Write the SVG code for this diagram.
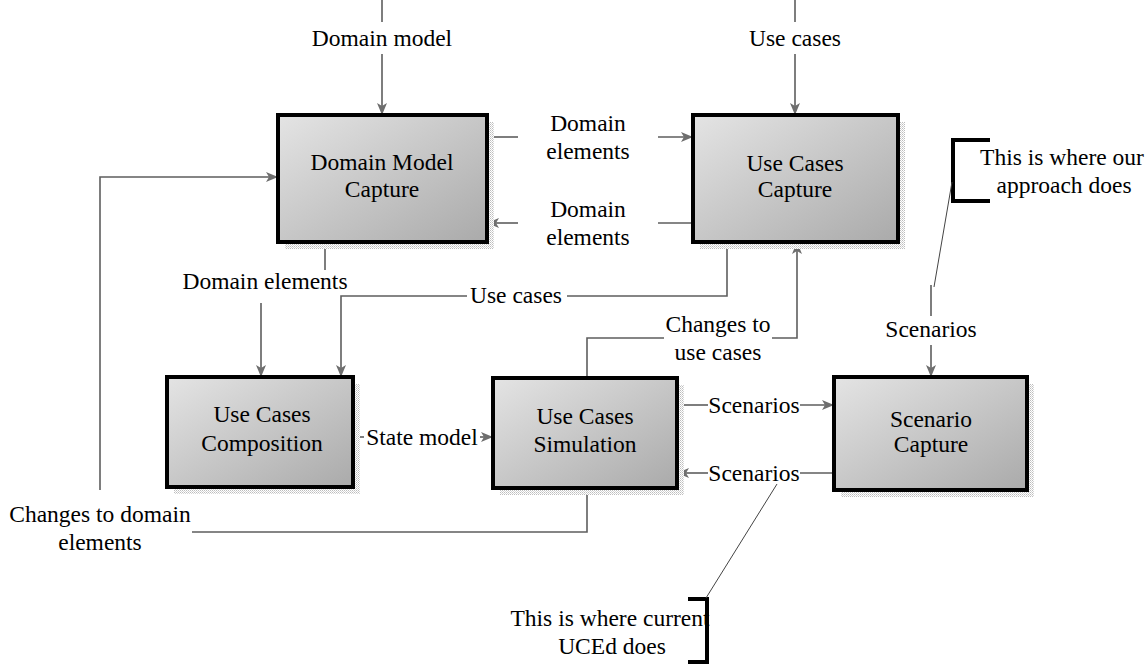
<svg xmlns="http://www.w3.org/2000/svg" width="1148" height="666" viewBox="0 0 1148 666" font-family="'Liberation Serif', 'DejaVu Serif', serif">
  <defs>
    <linearGradient id="boxFill" x1="0" y1="0" x2="1" y2="1">
      <stop offset="0" stop-color="#e4e4e4"/>
      <stop offset="0.55" stop-color="#c4c4c4"/>
      <stop offset="1" stop-color="#aaaaaa"/>
    </linearGradient>
    <pattern id="dither" width="2" height="2" patternUnits="userSpaceOnUse">
      <rect width="2" height="2" fill="#ffffff"/>
      <rect width="1" height="1" fill="#bdbdbd"/>
      <rect x="1" y="1" width="1" height="1" fill="#d6d6d6"/>
    </pattern>
    <marker id="arrow" viewBox="0 0 12 10" refX="12" refY="5" markerWidth="12" markerHeight="10" markerUnits="userSpaceOnUse" orient="auto">
      <path d="M0,0 L12,5 L0,10 L3,5 Z" fill="#6e6e6e"/>
    </marker>
  </defs>
  <style>
    .shadow { fill: url(#dither); }
    .box { fill: url(#boxFill); stroke: #000; stroke-width: 4; }
    text { font-family: 'Liberation Serif', 'DejaVu Serif', serif; font-size: 23.5px; fill: #000; text-anchor: middle; }
    .wire { fill: none; stroke: #5e5e5e; stroke-width: 1.6; }
    .arrow { marker-end: url(#arrow); }
    .bracket { fill: none; stroke: #000; stroke-width: 4; }
    .pointer { fill: none; stroke: #444; stroke-width: 1; }
  </style>

  <rect width="1148" height="666" fill="#ffffff"/>

  <!-- connectors -->
  <g id="connectors">
    <!-- Domain model input -->
    <line class="wire" x1="382" y1="0" x2="382" y2="22"/>
    <line class="wire arrow" x1="382" y1="54" x2="382" y2="115"/>
    <!-- Use cases input -->
    <line class="wire" x1="795" y1="0" x2="795" y2="22"/>
    <line class="wire arrow" x1="795" y1="54" x2="795" y2="115"/>
    <!-- Domain elements: DMC to UCC -->
    <line class="wire" x1="487" y1="137" x2="518" y2="137"/>
    <line class="wire arrow" x1="658" y1="137" x2="693" y2="137"/>
    <!-- Domain elements: UCC to DMC -->
    <line class="wire" x1="693" y1="223" x2="658" y2="223"/>
    <line class="wire arrow" x1="518" y1="223" x2="487" y2="223"/>
    <!-- Domain elements: DMC to Composition -->
    <line class="wire" x1="325" y1="242" x2="325" y2="270"/>
    <line class="wire arrow" x1="261" y1="303" x2="261" y2="377"/>
    <!-- Use cases: UCC to Composition -->
    <polyline class="wire" points="727,242 727,296 567,296"/>
    <polyline class="wire arrow" points="467,296 341,296 341,377"/>
    <!-- Changes to use cases: Simulation to UCC -->
    <polyline class="wire" points="587,378 587,338 664,338"/>
    <polyline class="wire arrow" points="772,338 797,338 797,242"/>
    <!-- State model -->
    <line class="wire" x1="353" y1="437" x2="364" y2="437"/>
    <line class="wire arrow" x1="480" y1="437" x2="493" y2="437"/>
    <!-- Scenarios: Simulation to Scenario Capture -->
    <line class="wire" x1="677" y1="405" x2="708" y2="405"/>
    <line class="wire arrow" x1="800" y1="405" x2="834" y2="405"/>
    <!-- Scenarios: Scenario Capture to Simulation -->
    <line class="wire" x1="834" y1="473" x2="800" y2="473"/>
    <line class="wire arrow" x1="708" y1="473" x2="677" y2="473"/>
    <!-- Scenarios input -->
    <line class="wire" x1="931" y1="285" x2="931" y2="316"/>
    <line class="wire arrow" x1="931" y1="345" x2="931" y2="377"/>
    <!-- Changes to domain elements: Simulation back to DMC -->
    <polyline class="wire" points="587,488 587,532 192,532"/>
    <polyline class="wire arrow" points="100,490 100,177 278,177"/>
  </g>

  <!-- connector labels -->
  <g id="connector-labels">
    <text x="382" y="46">Domain model</text>
    <text x="795" y="46">Use cases</text>
    <text x="588" y="131">Domain</text>
    <text x="588" y="159">elements</text>
    <text x="588" y="217">Domain</text>
    <text x="588" y="245">elements</text>
    <text x="265" y="289">Domain elements</text>
    <text x="516" y="303">Use cases</text>
    <text x="718" y="332">Changes to</text>
    <text x="718" y="360">use cases</text>
    <text x="422" y="445">State model</text>
    <text x="754" y="413">Scenarios</text>
    <text x="754" y="481">Scenarios</text>
    <text x="931" y="337">Scenarios</text>
    <text x="100" y="522">Changes to domain</text>
    <text x="100" y="550">elements</text>
  </g>

  <!-- process nodes -->
  <g id="domain-model-capture">
    <rect class="shadow" x="285" y="122" width="209" height="127"/>
    <rect class="box" x="278" y="115" width="209" height="127"/>
    <text x="382" y="170">Domain Model</text>
    <text x="382" y="197">Capture</text>
  </g>
  <g id="use-cases-capture">
    <rect class="shadow" x="700" y="122" width="205" height="127"/>
    <rect class="box" x="693" y="115" width="205" height="127"/>
    <text x="795" y="171">Use Cases</text>
    <text x="795" y="197">Capture</text>
  </g>
  <g id="use-cases-composition">
    <rect class="shadow" x="174" y="384" width="186" height="110"/>
    <rect class="box" x="167" y="377" width="186" height="110"/>
    <text x="262" y="422">Use Cases</text>
    <text x="262" y="451">Composition</text>
  </g>
  <g id="use-cases-simulation">
    <rect class="shadow" x="500" y="385" width="184" height="110"/>
    <rect class="box" x="493" y="378" width="184" height="110"/>
    <text x="585" y="424">Use Cases</text>
    <text x="585" y="452">Simulation</text>
  </g>
  <g id="scenario-capture">
    <rect class="shadow" x="841" y="384" width="193" height="113"/>
    <rect class="box" x="834" y="377" width="193" height="113"/>
    <text x="931" y="427">Scenario</text>
    <text x="931" y="452">Capture</text>
  </g>

  <!-- annotations -->
  <g id="note-our-approach">
    <polyline class="bracket" points="990,140 953,140 953,201 990,201"/>
    <line class="pointer" x1="952" y1="182" x2="934" y2="287"/>
    <text x="1062" y="165">This is where our</text>
    <text x="1064" y="193">approach does</text>
  </g>
  <g id="note-current-uced">
    <polyline class="bracket" points="688,599 707,599 707,662 688,662"/>
    <line class="pointer" x1="706" y1="598" x2="777" y2="484"/>
    <text x="610" y="626">This is where current</text>
    <text x="612" y="654">UCEd does</text>
  </g>
</svg>
